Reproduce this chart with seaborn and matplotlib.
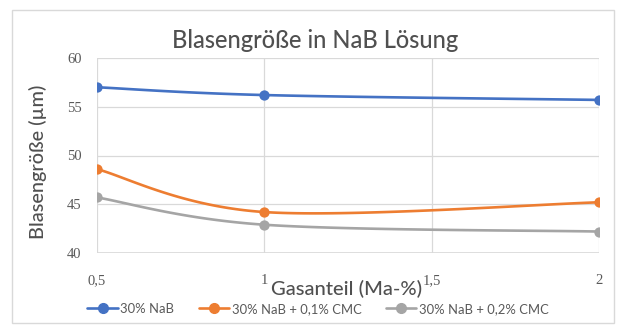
import numpy as np
import pandas as pd
import seaborn as sns
import matplotlib.pyplot as plt
from matplotlib.lines import Line2D
from matplotlib.patches import Rectangle

# --- data -------------------------------------------------------------
gas_fraction = [0.5, 1.0, 2.0]
series_names = ["30% NaB", "30% NaB + 0,1% CMC", "30% NaB + 0,2% CMC"]
nab_30 = [57.0, 56.2, 55.7]
nab_30_cmc01 = [48.6, 44.2, 45.2]
nab_30_cmc02 = [45.7, 42.9, 42.2]
x_ticks = [0.5, 1.0, 1.5, 2.0]
x_tick_labels = ["0,5", "1", "1,5", "2"]
y_ticks = [40, 45, 50, 55, 60]

colors = ["#4472C4", "#ED7D31", "#A5A5A5"]
text_gray = "#595959"
label_gray = "#505050"
grid_gray = "#D9D9D9"


def smooth_curve(xs, ys, n=60):
    """Cubic Bezier smoothing through every point (spreadsheet-style)."""
    pts = np.column_stack([xs, ys]).astype(float)
    m = len(pts)
    out = []
    for i in range(m - 1):
        p_prev = pts[max(i - 1, 0)]
        p0 = pts[i]
        p1 = pts[i + 1]
        p_next = pts[min(i + 2, m - 1)]
        c1 = p0 + (p1 - p_prev) / 6.0
        c2 = p1 - (p_next - p0) / 6.0
        t = np.linspace(0, 1, n)[:, None]
        seg = ((1 - t) ** 3) * p0 + 3 * ((1 - t) ** 2) * t * c1 \
            + 3 * (1 - t) * t ** 2 * c2 + t ** 3 * p1
        out.append(seg if i == 0 else seg[1:])
    return np.vstack(out)


sns.set_theme(style="white")
plt.rcParams["font.family"] = ["Lato", "DejaVu Sans"]

fig = plt.figure(figsize=(6.27, 3.25), dpi=100)
ax = fig.add_axes([97 / 627, 1 - 253 / 325, 502 / 627, 195 / 325])

all_values = [nab_30, nab_30_cmc01, nab_30_cmc02]
for name, vals, col in zip(series_names, all_values, colors):
    curve = smooth_curve(gas_fraction, vals)
    cdf = pd.DataFrame({"x": curve[:, 0], "y": curve[:, 1]})
    sns.lineplot(data=cdf, x="x", y="y", ax=ax, color=col, lw=1.9,
                 sort=False, estimator=None, zorder=3)
    pdf = pd.DataFrame({"x": gas_fraction, "y": vals})
    sns.scatterplot(data=pdf, x="x", y="y", ax=ax, color=col, s=55,
                    edgecolor=col, linewidth=0, zorder=4)

ax.set_xlim(0.5, 2.0)
ax.set_ylim(40, 60)
ax.set_xticks(x_ticks)
ax.set_xticklabels(x_tick_labels)
ax.set_yticks(y_ticks)
ax.grid(True, color=grid_gray, lw=0.9)
ax.set_axisbelow(True)
for sp in ax.spines.values():
    sp.set_visible(False)
ax.axhline(40, color=grid_gray, lw=1.2, zorder=1)

ax.tick_params(axis="both", length=0, colors=text_gray, labelsize=10.5)
ax.tick_params(axis="x", pad=15)
ax.tick_params(axis="y", pad=11)
for lab in ax.get_xticklabels() + ax.get_yticklabels():
    lab.set_family(["Liberation Serif", "DejaVu Serif"])

ax.set_xlabel("Gasanteil (Ma-%)", fontsize=14.5, color=label_gray,
              fontweight="medium")
ax.set_ylabel("Blasengröße (µm)", fontsize=14.3, color=label_gray,
              fontweight="medium")
ax.xaxis.set_label_coords(0.497, (253 - 280) / 195)
ax.yaxis.set_label_coords((47 - 97) / 502, (253 - 162) / 195)

fig.text(315 / 627, 1 - 40 / 325, "Blasengröße in NaB Lösung",
         ha="center", va="center", fontsize=17, color=label_gray,
         fontweight="medium")

handles = [Line2D([0], [0], color=c, lw=1.9, marker="o", markersize=7)
           for c in colors]
fig.legend(handles, series_names, loc="center", ncol=3, frameon=False,
           bbox_to_anchor=(318 / 627, 1 - 309 / 325), fontsize=9.4,
           labelcolor=text_gray, handlelength=2.3, handletextpad=0.2,
           columnspacing=1.9)

# chart frame
fig.patches.append(Rectangle((12 / 627, 2 / 325), 602 / 627, 313 / 325,
                             transform=fig.transFigure, fill=False,
                             edgecolor=grid_gray, lw=1.0))

fig.savefig("out.png", dpi=100)
